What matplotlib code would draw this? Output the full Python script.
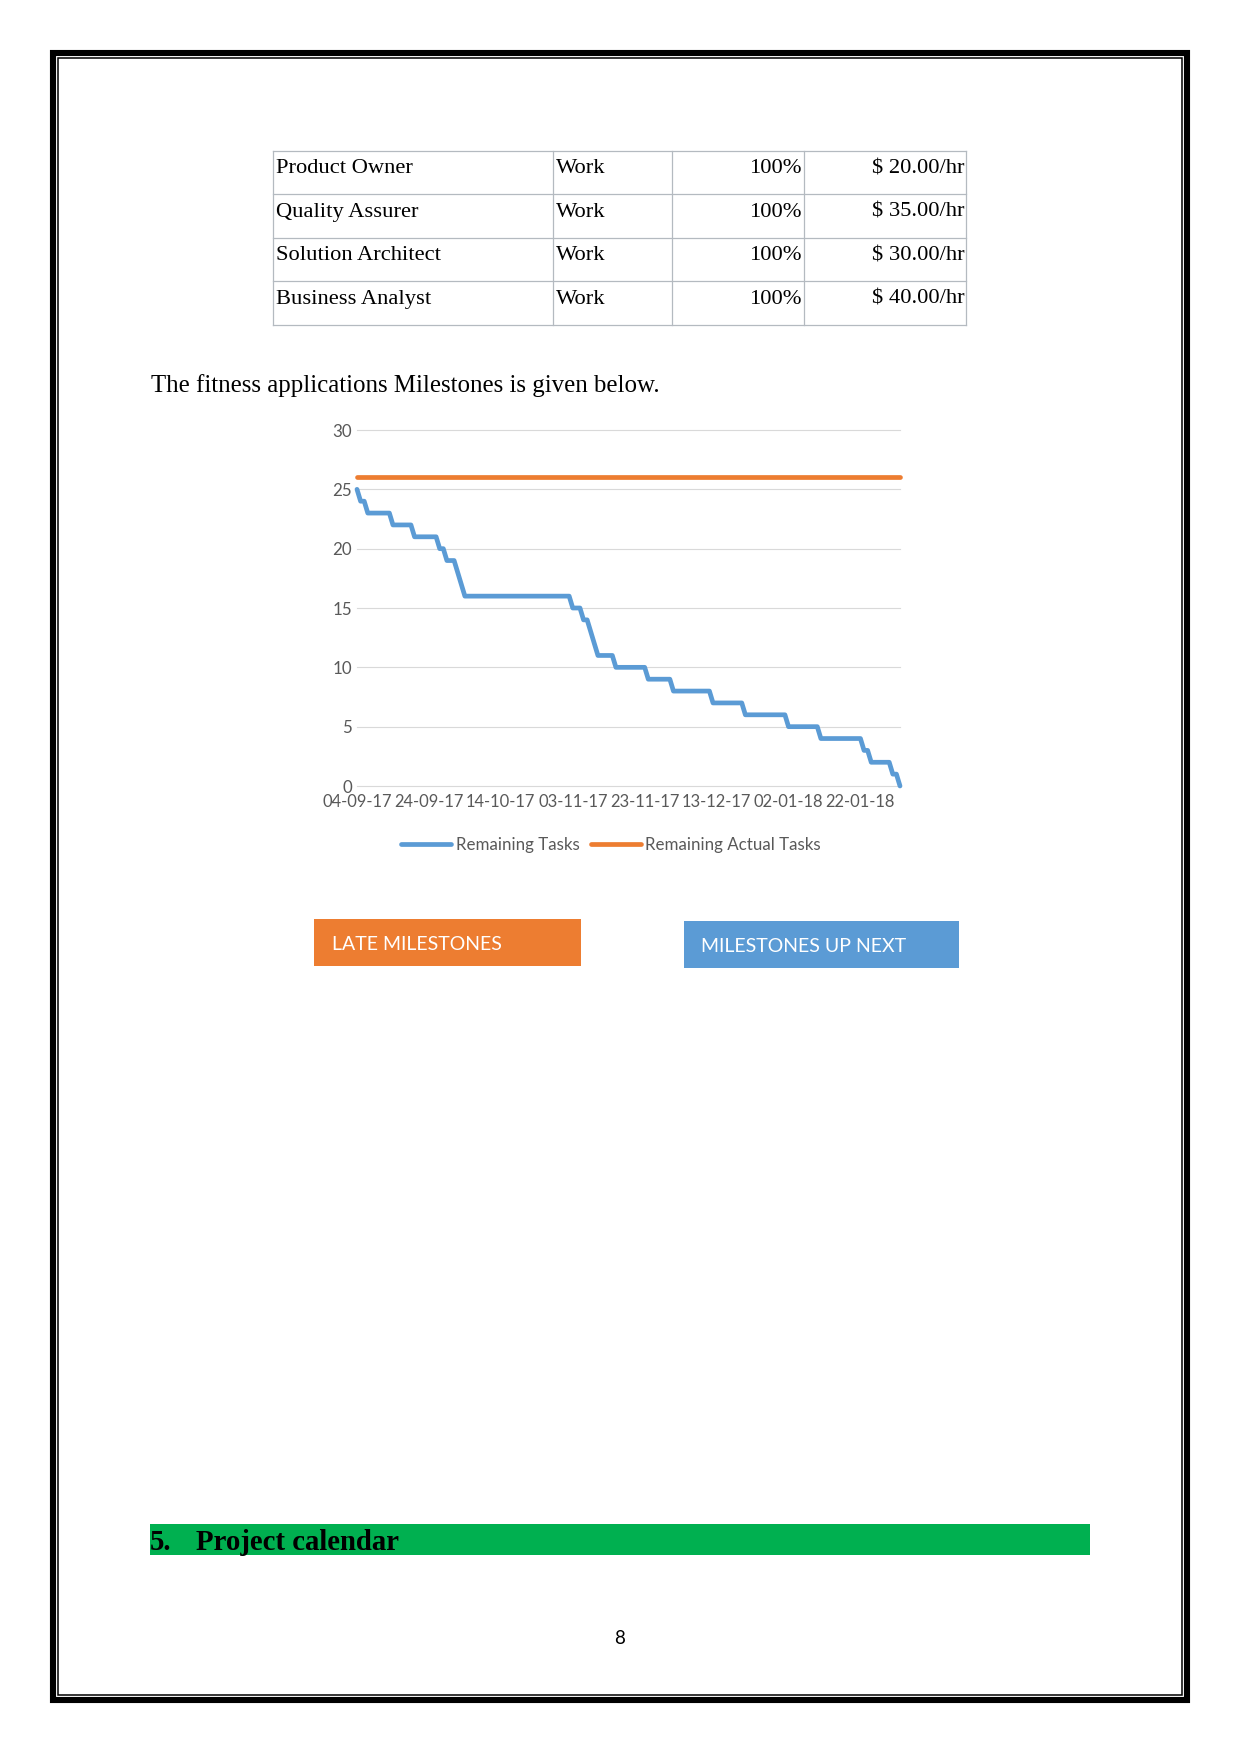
import matplotlib
matplotlib.use("Agg")
import matplotlib.pyplot as plt
import matplotlib.dates as mdates
from matplotlib.patches import Rectangle
import pandas as pd

# ---------------- data ----------------
roles = ["Product Owner", "Quality Assurer", "Solution Architect", "Business Analyst"]
res_types = ["Work", "Work", "Work", "Work"]
max_units = ["100%", "100%", "100%", "100%"]
std_rates = ["$ 20.00/hr", "$ 35.00/hr", "$ 30.00/hr", "$ 40.00/hr"]

remaining_dates = [
    "2017-09-04", "2017-09-05", "2017-09-06", "2017-09-07", "2017-09-13", "2017-09-14",
    "2017-09-19", "2017-09-20", "2017-09-26", "2017-09-27", "2017-09-28", "2017-09-29",
    "2017-10-01", "2017-10-04", "2017-11-02", "2017-11-03", "2017-11-05", "2017-11-06",
    "2017-11-07", "2017-11-10", "2017-11-14", "2017-11-15", "2017-11-23", "2017-11-24",
    "2017-11-30", "2017-12-01", "2017-12-11", "2017-12-12", "2017-12-20", "2017-12-21",
    "2018-01-01", "2018-01-02", "2018-01-10", "2018-01-11", "2018-01-22", "2018-01-23",
    "2018-01-24", "2018-01-25", "2018-01-30", "2018-01-31", "2018-02-01", "2018-02-02",
]
remaining_tasks = [
    25, 24, 24, 23, 23, 22,
    22, 21, 21, 20, 20, 19,
    19, 16, 16, 15, 15, 14,
    14, 11, 11, 10, 10, 9,
    9, 8, 8, 7, 7, 6,
    6, 5, 5, 4, 4, 3,
    3, 2, 2, 1, 1, 0,
]
actual_dates = ["2017-09-04", "2018-02-02"]
actual_tasks = [26, 26]

y_ticks = [0, 5, 10, 15, 20, 25, 30]
series_names = ["Remaining Tasks", "Remaining Actual Tasks"]
intro_text = "The fitness applications Milestones is given below."
button_labels = ["LATE MILESTONES", "MILESTONES UP NEXT"]
heading_num = "5."
heading_text = "Project calendar"
page_number = "8"

# ---------------- figure ----------------
W, H = 1241, 1754
fig = plt.figure(figsize=(W / 100, H / 100), dpi=100)
fig.patch.set_facecolor("white")

page = fig.add_axes([0, 0, 1, 1])
page.set_xlim(0, W)
page.set_ylim(H, 0)
page.axis("off")

SERIF = ["Liberation Serif", "DejaVu Serif"]
SANS = ["Lato", "DejaVu Sans"]

# page border
page.add_patch(Rectangle((53, 52.5), 1134, 1647.5, fill=False, lw=4.4, ec="black"))
page.add_patch(Rectangle((58, 57.5), 1124, 1637.5, fill=False, lw=1.1, ec="black"))

# table
col_x = [273, 553, 672, 804, 966]
row_y = [150.7, 194.3, 237.7, 281.3, 325]
grid_c = "#B4BAC0"
for x in col_x:
    page.plot([x, x], [row_y[0], row_y[-1]], color=grid_c, lw=0.9)
for y in row_y:
    page.plot([col_x[0], col_x[-1]], [y, y], color=grid_c, lw=0.9)
for i in range(len(roles)):
    base = row_y[i] + 22.6
    page.text(col_x[0] + 3, base, roles[i], family=SERIF, fontsize=16.2, va="baseline", ha="left")
    page.text(col_x[1] + 3, base, res_types[i], family=SERIF, fontsize=16.2, va="baseline", ha="left")
    page.text(col_x[3] - 2.5, base, max_units[i], family=SERIF, fontsize=16.2, va="baseline", ha="right")
    page.text(col_x[4] - 1, base, std_rates[i], family=SERIF, fontsize=16.2, va="baseline", ha="right")

# intro sentence
page.text(151, 392, intro_text, family=SERIF, fontsize=17.9, va="baseline", ha="left")

# buttons
page.add_patch(Rectangle((314, 919), 267, 47, color="#ED7D31", lw=0))
page.text(332, 944.5, button_labels[0], family=SANS, fontsize=14, color="white", va="center", ha="left")
page.add_patch(Rectangle((684, 921), 275, 47, color="#5B9BD5", lw=0))
page.text(701, 946, button_labels[1], family=SANS, fontsize=14, color="white", va="center", ha="left")

# heading bar
page.add_patch(Rectangle((150, 1524), 940, 31, color="#00B050", lw=0))
page.text(150, 1550, heading_num, family=SERIF, fontsize=20.7, fontweight="bold", va="baseline", ha="left")
page.text(196, 1550, heading_text, family=SERIF, fontsize=20.7, fontweight="bold", va="baseline", ha="left")

# page number
page.text(620, 1638, page_number, family=SANS, fontsize=13.5, va="center", ha="center")

# ---------------- chart ----------------
L, R, T, B = 357, 900, 430, 786
ax = fig.add_axes([L / W, 1 - B / H, (R - L) / W, (B - T) / H])
ax.set_facecolor("none")

rd = pd.to_datetime(remaining_dates)
ad = pd.to_datetime(actual_dates)
blue, orange = "#5B9BD5", "#ED7D31"
ax.plot(rd, remaining_tasks, color=blue, lw=3.4, solid_joinstyle="round",
        solid_capstyle="round", clip_on=False, label=series_names[0], zorder=3)
ax.plot(ad, actual_tasks, color=orange, lw=3.4, solid_capstyle="round",
        clip_on=False, label=series_names[1], zorder=3)

ax.set_ylim(0, 30)
ax.set_yticks(y_ticks)
ax.set_xlim(rd[0], rd[-1])
ax.set_xticks(pd.date_range(rd[0], rd[-1], freq="20D"))
ax.xaxis.set_major_formatter(mdates.DateFormatter("%d-%m-%y"))

for s in ax.spines.values():
    s.set_visible(False)
ax.tick_params(length=0, colors="#595959")
ax.tick_params(axis="y", pad=3.5, labelsize=12.2)
ax.tick_params(axis="x", pad=6, labelsize=11.9)
for lab in ax.get_xticklabels() + ax.get_yticklabels():
    lab.set_family(SANS)
ax.grid(axis="y", color="#D9D9D9", lw=0.8)
ax.grid(axis="x", visible=False)
for gl in ax.get_ygridlines():
    gl.set_clip_on(False)
ax.set_axisbelow(True)

leg = ax.legend(loc="center", bbox_to_anchor=(611 / W, 1 - 845 / H), bbox_transform=fig.transFigure,
                ncol=2, frameon=False, handlelength=2.95, handletextpad=0.27, columnspacing=0.66,
                prop={"family": SANS, "size": 12.2})
for t in leg.get_texts():
    t.set_color("#595959")

fig.savefig("out.png", dpi=100, facecolor="white")
